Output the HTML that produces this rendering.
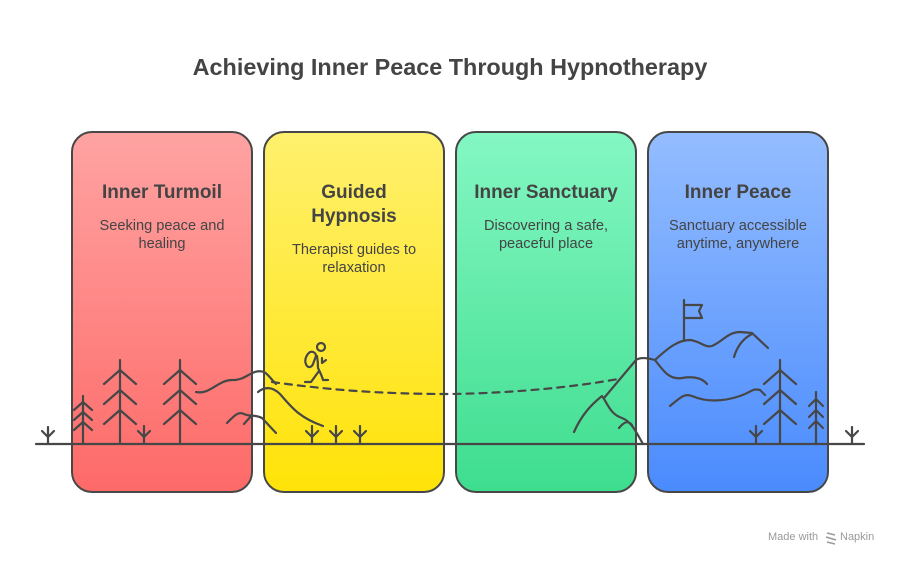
<!DOCTYPE html>
<html><head><meta charset="utf-8"><style>
html,body{margin:0;padding:0;background:#fff;}
svg{display:block;font-family:"Liberation Sans",sans-serif;}
</style></head><body>
<svg width="900" height="564" viewBox="0 0 900 564" xmlns="http://www.w3.org/2000/svg">
<defs>
<linearGradient id="r" x1="0" y1="0" x2="0" y2="1"><stop offset="0" stop-color="#fea3a2"/><stop offset="1" stop-color="#fd6a68"/></linearGradient>
<linearGradient id="y" x1="0" y1="0" x2="0" y2="1"><stop offset="0" stop-color="#fff06e"/><stop offset="1" stop-color="#ffe308"/></linearGradient>
<linearGradient id="g" x1="0" y1="0" x2="0" y2="1"><stop offset="0" stop-color="#84f7c3"/><stop offset="1" stop-color="#3edd8e"/></linearGradient>
<linearGradient id="b" x1="0" y1="0" x2="0" y2="1"><stop offset="0" stop-color="#94bdff"/><stop offset="1" stop-color="#4a8bfd"/></linearGradient>
</defs>
<text x="450" y="75" text-anchor="middle" font-size="23.4" font-weight="bold" fill="#444">Achieving Inner Peace Through Hypnotherapy</text>
<g stroke="#474747" stroke-width="2">
<rect x="72" y="132" width="180" height="360" rx="20" fill="url(#r)"/>
<rect x="264" y="132" width="180" height="360" rx="20" fill="url(#y)"/>
<rect x="456" y="132" width="180" height="360" rx="20" fill="url(#g)"/>
<rect x="648" y="132" width="180" height="360" rx="20" fill="url(#b)"/>
</g>
<g fill="#444" text-anchor="middle">
<text x="162" y="198" font-size="19" font-weight="bold">Inner Turmoil</text>
<text x="162" y="230" font-size="14.6">Seeking peace and</text>
<text x="162" y="248" font-size="14.6">healing</text>
<text x="354" y="198" font-size="19" font-weight="bold">Guided</text>
<text x="354" y="222" font-size="19" font-weight="bold">Hypnosis</text>
<text x="354" y="254" font-size="14.6">Therapist guides to</text>
<text x="354" y="272" font-size="14.6">relaxation</text>
<text x="546" y="198" font-size="19" font-weight="bold">Inner Sanctuary</text>
<text x="546" y="230" font-size="14.6">Discovering a safe,</text>
<text x="546" y="248" font-size="14.6">peaceful place</text>
<text x="738" y="198" font-size="19" font-weight="bold">Inner Peace</text>
<text x="738" y="230" font-size="14.6">Sanctuary accessible</text>
<text x="738" y="248" font-size="14.6">anytime, anywhere</text>
</g>
<g fill="none" stroke="#474747" stroke-width="2.2" stroke-linecap="round" stroke-linejoin="round">
<line x1="36" y1="444" x2="864" y2="444"/>
<path d="M83,396V444M74,410L83,402L92,410M74,420L83,412L92,420M74,430L83,422L92,430"/>
<path d="M120,360V444M104,384L120,370L136,384M104,404L120,390L136,404M104,424L120,410L136,424"/>
<path d="M180,360V444M164,384L180,370L196,384M164,404L180,390L196,404M164,424L180,410L196,424"/>
<path d="M780,360V444M764,384L780,370L796,384M764,404L780,390L796,404M764,424L780,410L796,424"/>
<path d="M816,392V444M809,406L816,399L823,406M809,417L816,410L823,417M809,428L816,421L823,428"/>
<path d="M48,427V444M42,431L48,437L54,431"/>
<path d="M144,426V444M138,431L144,437L150,431"/>
<path d="M312,426V444M306,431L312,437L318,431"/>
<path d="M336,426V444M330,431L336,437L342,431"/>
<path d="M360,426V444M354,431L360,437L366,431"/>
<path d="M756,426V444M750,431L756,437L762,431"/>
<path d="M852,427V444M846,431L852,437L858,431"/>
<path d="M196,392C210,395 218,380 232,380C246,381 252,368 264,372C268,374 270,378 276,384"/>
<path d="M258,392C264,387 272,386 280,394C292,408 300,418 323,426"/>
<path d="M227,423C234,416 238,411 244,414C250,417 254,414 262,418L276,433"/>
<path d="M244,424L252,415"/>
<circle cx="321" cy="347" r="4"/>
<path d="M310,352C305,356 304,362 307,366C309,368 312,367 313,364L316,356C316,353 313,351 310,352Z"/>
<path d="M317,356C318,362 318,366 318,368C320,372 322,376 323,380L328,380"/>
<path d="M319,371L311,382L305,382"/>
<path d="M322,358L322,363L326,360"/>
<path d="M272,382C330,390 380,394 450,394C520,393 580,386 618,379" stroke-dasharray="7,6"/>
<path d="M574,432C582,414 592,404 602,396C608,404 610,414 622,418C632,422 636,432 643,444"/>
<path d="M619,428C624,422 628,420 632,425"/>
<path d="M604,398L636,360C640,357 648,358 655,360C668,348 678,340 690,340C700,341 705,348 712,346C722,342 728,332 740,332L752,333L768,348"/>
<path d="M734,357C737,347 742,339 752,334"/>
<path d="M655,360C664,372 670,380 682,378C694,376 702,378 707,384"/>
<path d="M670,406C680,398 684,393 692,396C706,402 722,402 740,396C752,392 752,388 760,390L765,395"/>
<path d="M684,341V300M684,305H702L699,311L702,318H684"/>
</g>
<text x="768" y="540" font-size="11" fill="#9a9a9a">Made with</text>
<path d="M827,533L835,535M826,537L836,540M827,542L835,544" stroke="#9a9a9a" stroke-width="1.5" fill="none"/>
<text x="840" y="540" font-size="11" fill="#9a9a9a">Napkin</text>
</svg>
</body></html>
